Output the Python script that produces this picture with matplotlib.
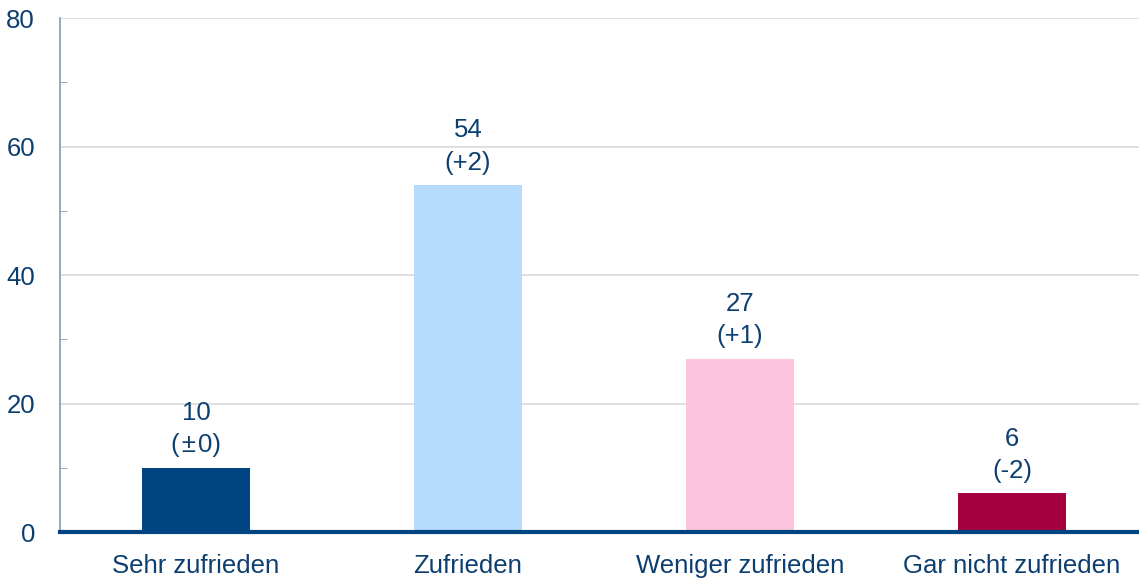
import matplotlib.pyplot as plt
import matplotlib

matplotlib.rcParams['font.family'] = ['Liberation Sans', 'DejaVu Sans']

categories = ['Sehr zufrieden', 'Zufrieden', 'Weniger zufrieden', 'Gar nicht zufrieden']
values = [10, 54, 27, 6]
changes = ['(\u200a±\u200a0)', '(+2)', '(+1)', '(-2)']
colors = ['#004481', '#b5dcfd', '#fcc5dd', '#a5003f']
text_color = '#0d3e70'

fig = plt.figure(figsize=(11.39, 5.81), dpi=100)
ax = fig.add_axes([0.0527, 0.0843, 0.9473, 0.8847])

x = range(len(categories))
ax.bar(x, values, width=0.4, color=colors, zorder=3)
for xi, v, c in zip(x, values, changes):
    ax.text(xi, v + 1.6, f'{v}\n{c}', ha='center', va='bottom', fontsize=18.5,
            color=text_color, linespacing=1.45)

ax.set_xlim(-0.5, 3.467)
ax.set_ylim(0, 80)
ax.set_yticks([0, 20, 40, 60, 80])
ax.set_yticks([10, 30, 50, 70], minor=True)
ax.set_xticks(list(x))
ax.set_xticklabels(categories)
ax.tick_params(axis='both', labelsize=18.5, labelcolor=text_color)
ax.tick_params(axis='x', length=0, pad=16)
ax.tick_params(axis='y', which='major', length=0, pad=18)
ax.tick_params(axis='y', which='minor', direction='in', length=5, color='#7f9bb8')
ax.grid(axis='y', color='#d9d9d9', linewidth=1.2, zorder=0)

for s in ['top', 'right']:
    ax.spines[s].set_visible(False)
ax.spines['left'].set_color('#7f9bb8')
ax.spines['left'].set_linewidth(1.2)
ax.spines['bottom'].set_color('#004481')
ax.spines['bottom'].set_linewidth(3)
ax.spines['bottom'].set_zorder(4)

fig.savefig('out.png', dpi=100)
